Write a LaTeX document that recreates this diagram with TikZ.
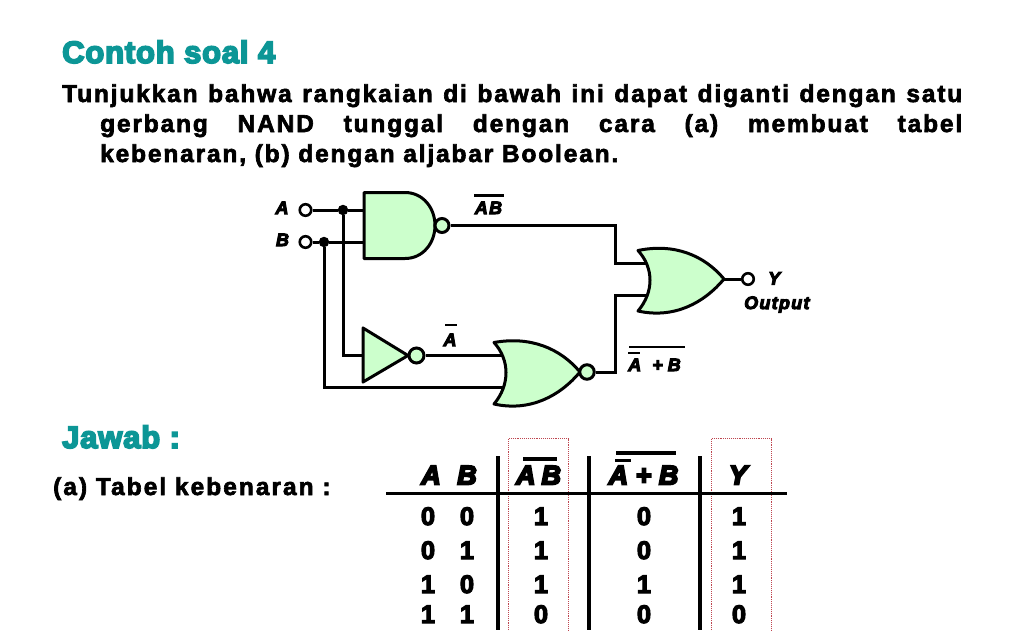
\documentclass[tikz,border=0pt]{standalone}
\usepackage{fontspec}
\setmainfont{Liberation Sans}
\newfontfamily\bodyf[FakeBold=2.6,LetterSpace=7.5]{Liberation Sans Bold}
\newfontfamily\plainf[FakeBold=2.6,LetterSpace=8.2]{Liberation Sans Bold}
\newfontfamily\headf[FakeBold=5.5,LetterSpace=2.6]{Liberation Sans Bold}
\newfontfamily\numf[FakeBold=4.5]{Liberation Sans Bold}
\newfontfamily\itf[FakeBold=5.5,LetterSpace=7]{Liberation Sans Bold Italic}
\newfontfamily\ithf[FakeBold=7]{Liberation Sans Bold Italic}
\definecolor{teal1}{RGB}{12,150,150}
\definecolor{gatefill}{RGB}{204,255,204}
\definecolor{redbox}{RGB}{190,70,80}
\tikzset{
  wire/.style={line width=3pt,line join=miter},
  gate/.style={draw=black,fill=gatefill,line width=3pt,line join=round},
  bubble/.style={circle,draw=black,fill=gatefill,line width=3pt,minimum size=#1,inner sep=0pt},
  terminal/.style={circle,draw=black,fill=white,line width=2.6pt,minimum size=11.5pt,inner sep=0pt},
  junction/.style={circle,fill=black,minimum size=10.5pt,inner sep=0pt},
  heading/.style={anchor=base west,inner sep=0pt,font=\headf\fontsize{31}{31}\selectfont,text=teal1},
  bodyline/.style={anchor=base west,inner sep=0pt,font=\bodyf\fontsize{24.5}{24.5}\selectfont},
  sig/.style={inner sep=0pt,anchor=base,font=\itf\fontsize{18}{18}\selectfont},
  tabhead/.style={inner sep=0pt,anchor=base,font=\ithf\fontsize{27}{27}\selectfont},
  cell/.style={inner sep=0pt,anchor=base,font=\numf\fontsize{25.5}{25.5}\selectfont},
  bar/.style={line width=2.6pt},
  tbar/.style={line width=3.2pt},
  rule/.style={line width=3.6pt},
  redb/.style={draw=redbox,line width=0.9pt,densely dotted}
}
\begin{document}
\begin{tikzpicture}[x=1pt,y=-1pt]
\useasboundingbox (0,0) rectangle (1024,630);
\fill[white] (0,0) rectangle (1024,630);
% text
\node[heading] (t0) at (62,63) {Contoh soal 4};
\node[bodyline] (t1) at (62,102) {\hbox to 900pt{Tunjukkan\hfill bahwa\hfill rangkaian\hfill di\hfill bawah\hfill ini\hfill dapat\hfill diganti\hfill dengan\hfill satu}};
\node[bodyline] (t2) at (100,132) {\hbox to 862pt{gerbang\hfill NAND\hfill tunggal\hfill dengan\hfill cara\hfill (a)\hfill membuat\hfill tabel}};
\node[bodyline] (t3) at (100,162) {kebenaran, (b) dengan aljabar Boolean.};
\node[heading] (t4) at (62,448) {Jawab :};
\node[anchor=base west,inner sep=0pt,font=\plainf\fontsize{24.5}{24.5}\selectfont] (t5) at (53,495) {(a) Tabel kebenaran :};

% gate pins
\coordinate (nandA) at (364,210);
\coordinate (nandB) at (364,242);
\coordinate (invIn) at (363,355.5);
\coordinate (norA) at (503,355.5);
\coordinate (norB) at (503,387.5);
\coordinate (orA) at (647,263);
\coordinate (orB) at (647,295);
\coordinate (bendA) at (615,225.5);
\coordinate (bendAd) at (615,263);
\coordinate (bendB) at (615,372);
\coordinate (bendBu) at (615,295);
\coordinate (turnA) at (343,355.5);
\coordinate (turnB) at (324,387.5);

% terminals and junctions
\node[terminal] (inA) at (305.5,210) {};
\node[terminal] (inB) at (305.5,242) {};
\node[junction] (jA) at (343,210) {};
\node[junction] (jB) at (324,242) {};
\node[terminal] (outY) at (748,279) {};

% wires
\draw[wire] (inA) -- (jA) -- (nandA);
\draw[wire] (inB) -- (jB) -- (nandB);
\draw[wire] (jA) -- (turnA) -- (invIn);
\draw[wire] (jB) -- (turnB) -- (norB);

% gates
\path[gate] (364,192.5) -- (405,192.5) .. controls (423,192.5) and (435,208) .. (435,225.5)
  .. controls (435,243) and (423,258.5) .. (405,258.5) -- (364,258.5) -- cycle;
\path[gate] (363,328) -- (408,355.5) -- (363,382) -- cycle;
\node[bubble=14pt] (bNand) at (442,225.5) {};
\node[bubble=15pt] (bInv) at (416.5,355.5) {};
\draw[wire] (bInv) -- (norA);
\path[gate] (494,342.5) .. controls (530,336) and (560,348) .. (580,372)
  .. controls (560,396) and (530,412) .. (494,404)
  .. controls (510,385) and (510,360) .. (494,342.5) -- cycle;
\node[bubble=14.5pt] (bNor) at (587,372) {};
\draw[wire] (bNand) -- (bendA) -- (bendAd) -- (orA);
\draw[wire] (bNor) -- (bendB) -- (bendBu) -- (orB);
\path[gate] (638,250.5) .. controls (674,243) and (704,255) .. (724,279)
  .. controls (704,303) and (674,319) .. (638,311)
  .. controls (654,292) and (654,268) .. (638,250.5) -- cycle;
\draw[wire] (724,279) -- (outY);

% signal labels
\node[sig] (lA) at (282,214) {A};
\node[sig] (lB) at (282.5,246) {B};
\node[sig] (lAB) at (488.5,214) {AB};
\draw[bar] (474,195.5) -- (504,195.5);
\node[sig] (lNA) at (450,346) {A};
\draw[bar] (445,325) -- (457,325);
\node[sig] (lNAB) at (654.5,371) {A\hspace{11pt}+\hspace{5pt}B};
\draw[bar] (629,347) -- (685,347);
\draw[bar] (628,353) -- (640,353);
\node[sig,anchor=base west] (lY) at (768,284.5) {Y};
\node[sig,anchor=base west] (lO) at (744,309) {Output};

% table: red boxes
\draw[redb] (508.5,630) -- (508.5,438.5) -- (568.5,438.5) -- (568.5,630);
\draw[redb] (711.5,630) -- (711.5,438.5) -- (771.5,438.5) -- (771.5,630);
% table lines
\draw[rule] (386,493.5) -- (787,493.5);
\draw[rule] (498,456) -- (498,630);
\draw[rule] (589,456) -- (589,630);
\draw[rule] (700,456) -- (700,630);
% table head
\node[tabhead] (hA) at (431,484.5) {A};
\node[tabhead] (hB) at (467,484.5) {B};
\node[tabhead] (hC) at (538.5,484.5) {A\hspace{6pt}B};
\draw[tbar] (523,459) -- (557,459);
\node[tabhead] (hD) at (643.5,484.5) {A + B};
\draw[tbar] (616,453) -- (676,453);
\draw[tbar] (615,460.5) -- (631,460.5);
\node[tabhead] (hE) at (738,484.5) {Y};
% table cells
\foreach \r/\y/\a/\b/\c/\d/\e in {1/525/0/0/1/0/1,2/559/0/1/1/0/1,3/593/1/0/1/1/1,4/623/1/1/0/0/0}{
  \node[cell] (a\r) at (428,\y) {\a};
  \node[cell] (b\r) at (467,\y) {\b};
  \node[cell] (c\r) at (541,\y) {\c};
  \node[cell] (d\r) at (644,\y) {\d};
  \node[cell] (e\r) at (739,\y) {\e};
}
\end{tikzpicture}
\end{document}
